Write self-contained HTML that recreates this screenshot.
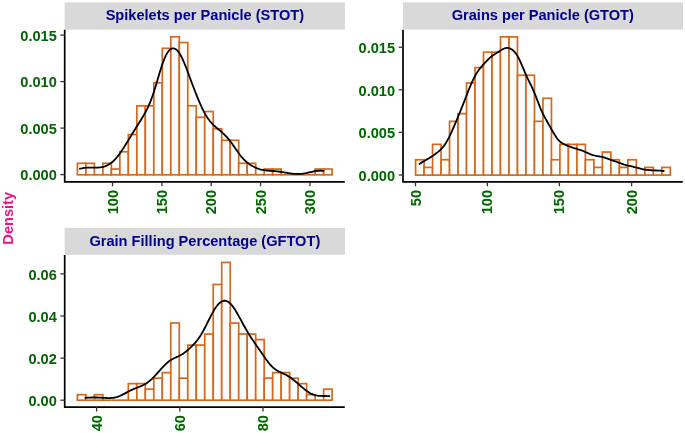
<!DOCTYPE html>
<html><head><meta charset="utf-8"><style>html,body{margin:0;padding:0;background:#fff;width:685px;height:433px;overflow:hidden}</style></head>
<body><svg width="685" height="433" viewBox="0 0 685 433" style="display:block;will-change:transform"><rect width="685" height="433" fill="#fff"/><rect x="64.7" y="2.4" width="280.30" height="27.20" fill="#D9D9D9"/><text x="204.85" y="20.35" text-anchor="middle" font-family="'Liberation Sans', sans-serif" font-weight="bold" font-size="14.6" fill="#00008B">Spikelets per Panicle (STOT)</text><g fill="#fff" stroke="#D2691E" stroke-width="1.7"><rect x="77.40" y="163.30" width="8.49" height="11.50"/><rect x="85.89" y="163.30" width="8.49" height="11.50"/><path d="M94.38,174.80H102.87"/><rect x="102.87" y="163.30" width="8.49" height="11.50"/><rect x="111.36" y="169.05" width="8.49" height="5.75"/><rect x="119.85" y="151.80" width="8.49" height="23.00"/><rect x="128.34" y="134.55" width="8.49" height="40.25"/><rect x="136.83" y="105.80" width="8.49" height="69.00"/><rect x="145.32" y="105.80" width="8.49" height="69.00"/><rect x="153.81" y="82.80" width="8.49" height="92.00"/><rect x="162.30" y="48.30" width="8.49" height="126.50"/><rect x="170.79" y="36.80" width="8.49" height="138.00"/><rect x="179.28" y="42.55" width="8.49" height="132.25"/><rect x="187.77" y="105.80" width="8.49" height="69.00"/><rect x="196.26" y="117.30" width="8.49" height="57.50"/><rect x="204.75" y="111.55" width="8.49" height="63.25"/><rect x="213.24" y="128.80" width="8.49" height="46.00"/><rect x="221.73" y="140.30" width="8.49" height="34.50"/><rect x="230.22" y="140.30" width="8.49" height="34.50"/><rect x="238.71" y="163.30" width="8.49" height="11.50"/><rect x="247.20" y="163.30" width="8.49" height="11.50"/><path d="M255.69,174.80H264.18"/><rect x="264.18" y="169.05" width="8.49" height="5.75"/><rect x="272.67" y="169.05" width="8.49" height="5.75"/><path d="M281.16,174.80H289.65"/><path d="M289.65,174.80H298.14"/><path d="M298.14,174.80H306.63"/><path d="M306.63,174.80H315.12"/><rect x="315.12" y="169.05" width="8.49" height="5.75"/><rect x="323.61" y="169.05" width="8.49" height="5.75"/></g><path d="M79.20,169.00 L80.16,168.74 L81.12,168.50 L82.09,168.28 L83.05,168.10 L84.01,167.94 L84.97,167.82 L85.93,167.72 L86.90,167.64 L87.86,167.59 L88.82,167.56 L89.78,167.55 L90.74,167.55 L91.71,167.56 L92.67,167.58 L93.63,167.60 L94.59,167.61 L95.55,167.62 L96.52,167.61 L97.48,167.59 L98.44,167.54 L99.40,167.47 L100.36,167.36 L101.33,167.22 L102.29,167.03 L103.25,166.80 L104.21,166.53 L105.17,166.20 L106.13,165.82 L107.10,165.39 L108.06,164.90 L109.02,164.34 L109.98,163.73 L110.94,163.05 L111.91,162.30 L112.87,161.48 L113.83,160.60 L114.79,159.64 L115.75,158.61 L116.72,157.51 L117.68,156.34 L118.64,155.11 L119.60,153.82 L120.56,152.46 L121.53,151.06 L122.49,149.62 L123.45,148.13 L124.41,146.61 L125.37,145.07 L126.34,143.51 L127.30,141.94 L128.26,140.36 L129.22,138.78 L130.18,137.20 L131.15,135.62 L132.11,134.05 L133.07,132.48 L134.03,130.92 L134.99,129.37 L135.96,127.83 L136.92,126.29 L137.88,124.76 L138.84,123.23 L139.80,121.69 L140.77,120.15 L141.73,118.59 L142.69,117.00 L143.65,115.38 L144.61,113.70 L145.58,111.96 L146.54,110.13 L147.50,108.20 L148.46,106.15 L149.42,103.96 L150.39,101.62 L151.35,99.13 L152.31,96.48 L153.27,93.67 L154.23,90.72 L155.19,87.64 L156.16,84.46 L157.12,81.22 L158.08,77.95 L159.04,74.70 L160.00,71.50 L160.97,68.40 L161.93,65.44 L162.89,62.66 L163.85,60.08 L164.81,57.74 L165.78,55.65 L166.74,53.83 L167.70,52.27 L168.66,50.97 L169.62,49.95 L170.59,49.18 L171.55,48.66 L172.51,48.39 L173.47,48.35 L174.43,48.56 L175.40,48.99 L176.36,49.66 L177.32,50.55 L178.28,51.67 L179.24,53.00 L180.21,54.54 L181.17,56.27 L182.13,58.19 L183.09,60.27 L184.05,62.49 L185.02,64.83 L185.98,67.26 L186.94,69.77 L187.90,72.33 L188.86,74.91 L189.83,77.51 L190.79,80.11 L191.75,82.69 L192.71,85.26 L193.67,87.79 L194.64,90.30 L195.60,92.76 L196.56,95.19 L197.52,97.57 L198.48,99.90 L199.45,102.17 L200.41,104.37 L201.37,106.50 L202.33,108.54 L203.29,110.49 L204.25,112.34 L205.22,114.08 L206.18,115.72 L207.14,117.25 L208.10,118.67 L209.06,119.99 L210.03,121.22 L210.99,122.36 L211.95,123.42 L212.91,124.41 L213.87,125.35 L214.84,126.24 L215.80,127.10 L216.76,127.94 L217.72,128.75 L218.68,129.56 L219.65,130.37 L220.61,131.18 L221.57,132.01 L222.53,132.86 L223.49,133.74 L224.46,134.65 L225.42,135.61 L226.38,136.62 L227.34,137.67 L228.30,138.79 L229.27,139.96 L230.23,141.19 L231.19,142.46 L232.15,143.79 L233.11,145.15 L234.08,146.53 L235.04,147.94 L236.00,149.34 L236.96,150.73 L237.92,152.10 L238.89,153.43 L239.85,154.72 L240.81,155.95 L241.77,157.12 L242.73,158.23 L243.70,159.27 L244.66,160.24 L245.62,161.16 L246.58,162.01 L247.54,162.80 L248.51,163.54 L249.47,164.23 L250.43,164.87 L251.39,165.48 L252.35,166.04 L253.31,166.57 L254.28,167.06 L255.24,167.51 L256.20,167.93 L257.16,168.32 L258.12,168.67 L259.09,168.99 L260.05,169.28 L261.01,169.53 L261.97,169.76 L262.93,169.95 L263.90,170.12 L264.86,170.27 L265.82,170.39 L266.78,170.50 L267.74,170.59 L268.71,170.68 L269.67,170.75 L270.63,170.82 L271.59,170.89 L272.55,170.95 L273.52,171.02 L274.48,171.10 L275.44,171.18 L276.40,171.28 L277.36,171.38 L278.33,171.49 L279.29,171.62 L280.25,171.75 L281.21,171.89 L282.17,172.05 L283.14,172.21 L284.10,172.37 L285.06,172.54 L286.02,172.71 L286.98,172.88 L287.95,173.05 L288.91,173.20 L289.87,173.35 L290.83,173.49 L291.79,173.61 L292.76,173.72 L293.72,173.81 L294.68,173.88 L295.64,173.94 L296.60,173.97 L297.57,173.98 L298.53,173.97 L299.49,173.94 L300.45,173.88 L301.41,173.80 L302.37,173.70 L303.34,173.57 L304.30,173.43 L305.26,173.27 L306.22,173.08 L307.18,172.89 L308.15,172.68 L309.11,172.46 L310.07,172.23 L311.03,172.01 L311.99,171.79 L312.96,171.58 L313.92,171.38 L314.88,171.20 L315.84,171.04 L316.80,170.91 L317.77,170.80 L318.73,170.74 L319.69,170.70 L320.65,170.70 L321.61,170.74 L322.58,170.81 L323.54,170.91 L324.50,171.05" fill="none" stroke="#000" stroke-width="1.8" stroke-linecap="butt"/><path d="M64.7,29.80 V182.75 M63.85,181.9 H344.80" fill="none" stroke="#000" stroke-width="1.7" stroke-linecap="butt"/><line x1="60.40" y1="174.6" x2="64.7" y2="174.6" stroke="#333" stroke-width="1.3"/><text transform="translate(56.80,180.30) scale(1.0,1.0)" text-anchor="end" font-family="'Liberation Sans', sans-serif" font-weight="bold" font-size="14.6" fill="#006400">0.000</text><line x1="60.40" y1="128.1" x2="64.7" y2="128.1" stroke="#333" stroke-width="1.3"/><text transform="translate(56.80,133.80) scale(1.0,1.0)" text-anchor="end" font-family="'Liberation Sans', sans-serif" font-weight="bold" font-size="14.6" fill="#006400">0.005</text><line x1="60.40" y1="81.6" x2="64.7" y2="81.6" stroke="#333" stroke-width="1.3"/><text transform="translate(56.80,87.30) scale(1.0,1.0)" text-anchor="end" font-family="'Liberation Sans', sans-serif" font-weight="bold" font-size="14.6" fill="#006400">0.010</text><line x1="60.40" y1="35.1" x2="64.7" y2="35.1" stroke="#333" stroke-width="1.3"/><text transform="translate(56.80,40.80) scale(1.0,1.0)" text-anchor="end" font-family="'Liberation Sans', sans-serif" font-weight="bold" font-size="14.6" fill="#006400">0.015</text><line x1="112.5" y1="181.9" x2="112.5" y2="186.30" stroke="#333" stroke-width="1.3"/><text transform="translate(117.50,189.90) rotate(-90) scale(1.0,1.0)" text-anchor="end" font-family="'Liberation Sans', sans-serif" font-weight="bold" font-size="14.6" fill="#006400">100</text><line x1="161.9" y1="181.9" x2="161.9" y2="186.30" stroke="#333" stroke-width="1.3"/><text transform="translate(166.90,189.90) rotate(-90) scale(1.0,1.0)" text-anchor="end" font-family="'Liberation Sans', sans-serif" font-weight="bold" font-size="14.6" fill="#006400">150</text><line x1="211.2" y1="181.9" x2="211.2" y2="186.30" stroke="#333" stroke-width="1.3"/><text transform="translate(216.20,189.90) rotate(-90) scale(1.0,1.0)" text-anchor="end" font-family="'Liberation Sans', sans-serif" font-weight="bold" font-size="14.6" fill="#006400">200</text><line x1="260.6" y1="181.9" x2="260.6" y2="186.30" stroke="#333" stroke-width="1.3"/><text transform="translate(265.60,189.90) rotate(-90) scale(1.0,1.0)" text-anchor="end" font-family="'Liberation Sans', sans-serif" font-weight="bold" font-size="14.6" fill="#006400">250</text><line x1="310.0" y1="181.9" x2="310.0" y2="186.30" stroke="#333" stroke-width="1.3"/><text transform="translate(315.00,189.90) rotate(-90) scale(1.0,1.0)" text-anchor="end" font-family="'Liberation Sans', sans-serif" font-weight="bold" font-size="14.6" fill="#006400">300</text><rect x="403" y="2.4" width="280.00" height="27.20" fill="#D9D9D9"/><text x="542.80" y="20.35" text-anchor="middle" font-family="'Liberation Sans', sans-serif" font-weight="bold" font-size="14.6" fill="#00008B">Grains per Panicle (GTOT)</text><g fill="#fff" stroke="#D2691E" stroke-width="1.7"><rect x="415.60" y="159.74" width="8.49" height="15.36"/><rect x="424.09" y="167.42" width="8.49" height="7.68"/><rect x="432.58" y="144.38" width="8.49" height="30.72"/><rect x="441.07" y="159.74" width="8.49" height="15.36"/><rect x="449.56" y="121.34" width="8.49" height="53.76"/><rect x="458.05" y="113.66" width="8.49" height="61.44"/><rect x="466.54" y="82.94" width="8.49" height="92.16"/><rect x="475.03" y="67.58" width="8.49" height="107.52"/><rect x="483.52" y="52.22" width="8.49" height="122.88"/><rect x="492.01" y="52.22" width="8.49" height="122.88"/><rect x="500.50" y="36.86" width="8.49" height="138.24"/><rect x="508.99" y="36.86" width="8.49" height="138.24"/><rect x="517.48" y="75.26" width="8.49" height="99.84"/><rect x="525.97" y="75.26" width="8.49" height="99.84"/><rect x="534.46" y="121.34" width="8.49" height="53.76"/><rect x="542.95" y="98.30" width="8.49" height="76.80"/><rect x="551.44" y="159.74" width="8.49" height="15.36"/><rect x="559.93" y="144.38" width="8.49" height="30.72"/><rect x="568.42" y="144.38" width="8.49" height="30.72"/><rect x="576.91" y="144.38" width="8.49" height="30.72"/><rect x="585.40" y="159.74" width="8.49" height="15.36"/><rect x="593.89" y="167.42" width="8.49" height="7.68"/><rect x="602.38" y="152.06" width="8.49" height="23.04"/><rect x="610.87" y="159.74" width="8.49" height="15.36"/><rect x="619.36" y="167.42" width="8.49" height="7.68"/><rect x="627.85" y="159.74" width="8.49" height="15.36"/><path d="M636.34,175.10H644.83"/><rect x="644.83" y="167.42" width="8.49" height="7.68"/><path d="M653.32,175.10H661.81"/><rect x="661.81" y="167.42" width="8.49" height="7.68"/></g><path d="M418.90,164.39 L419.86,163.68 L420.83,163.01 L421.79,162.38 L422.75,161.80 L423.72,161.24 L424.68,160.70 L425.64,160.17 L426.61,159.63 L427.57,159.09 L428.53,158.53 L429.49,157.94 L430.46,157.34 L431.42,156.71 L432.38,156.06 L433.35,155.40 L434.31,154.72 L435.27,154.04 L436.24,153.33 L437.20,152.60 L438.16,151.84 L439.13,151.04 L440.09,150.17 L441.05,149.24 L442.02,148.22 L442.98,147.09 L443.94,145.85 L444.90,144.49 L445.87,143.01 L446.83,141.40 L447.79,139.67 L448.76,137.83 L449.72,135.89 L450.68,133.86 L451.65,131.76 L452.61,129.61 L453.57,127.40 L454.54,125.17 L455.50,122.90 L456.46,120.62 L457.43,118.31 L458.39,115.99 L459.35,113.65 L460.31,111.28 L461.28,108.89 L462.24,106.48 L463.20,104.04 L464.17,101.57 L465.13,99.10 L466.09,96.61 L467.06,94.14 L468.02,91.68 L468.98,89.27 L469.95,86.91 L470.91,84.63 L471.87,82.44 L472.84,80.35 L473.80,78.37 L474.76,76.51 L475.73,74.78 L476.69,73.16 L477.65,71.66 L478.61,70.27 L479.58,68.97 L480.54,67.75 L481.50,66.59 L482.47,65.48 L483.43,64.40 L484.39,63.34 L485.36,62.31 L486.32,61.29 L487.28,60.30 L488.25,59.34 L489.21,58.43 L490.17,57.56 L491.14,56.75 L492.10,56.00 L493.06,55.30 L494.02,54.64 L494.99,54.02 L495.95,53.41 L496.91,52.81 L497.88,52.20 L498.84,51.58 L499.80,50.95 L500.77,50.33 L501.73,49.74 L502.69,49.19 L503.66,48.71 L504.62,48.33 L505.58,48.06 L506.55,47.91 L507.51,47.89 L508.47,48.01 L509.43,48.27 L510.40,48.65 L511.36,49.16 L512.32,49.81 L513.29,50.59 L514.25,51.54 L515.21,52.65 L516.18,53.94 L517.14,55.42 L518.10,57.10 L519.07,58.96 L520.03,60.98 L520.99,63.13 L521.96,65.38 L522.92,67.67 L523.88,69.96 L524.85,72.22 L525.81,74.41 L526.77,76.52 L527.73,78.56 L528.70,80.55 L529.66,82.50 L530.62,84.46 L531.59,86.47 L532.55,88.55 L533.51,90.74 L534.48,93.03 L535.44,95.43 L536.40,97.90 L537.37,100.42 L538.33,102.94 L539.29,105.41 L540.26,107.81 L541.22,110.09 L542.18,112.24 L543.14,114.25 L544.11,116.14 L545.07,117.93 L546.03,119.65 L547.00,121.32 L547.96,122.99 L548.92,124.67 L549.89,126.36 L550.85,128.09 L551.81,129.82 L552.78,131.54 L553.74,133.23 L554.70,134.85 L555.67,136.37 L556.63,137.76 L557.59,139.02 L558.55,140.13 L559.52,141.10 L560.48,141.93 L561.44,142.64 L562.41,143.25 L563.37,143.79 L564.33,144.28 L565.30,144.73 L566.26,145.15 L567.22,145.56 L568.19,145.97 L569.15,146.36 L570.11,146.75 L571.08,147.12 L572.04,147.47 L573.00,147.81 L573.97,148.12 L574.93,148.42 L575.89,148.70 L576.85,148.98 L577.82,149.25 L578.78,149.53 L579.74,149.82 L580.71,150.13 L581.67,150.46 L582.63,150.82 L583.60,151.21 L584.56,151.61 L585.52,152.04 L586.49,152.48 L587.45,152.92 L588.41,153.35 L589.38,153.77 L590.34,154.17 L591.30,154.54 L592.26,154.87 L593.23,155.17 L594.19,155.44 L595.15,155.67 L596.12,155.87 L597.08,156.05 L598.04,156.22 L599.01,156.38 L599.97,156.55 L600.93,156.74 L601.90,156.94 L602.86,157.17 L603.82,157.43 L604.79,157.72 L605.75,158.04 L606.71,158.37 L607.67,158.72 L608.64,159.08 L609.60,159.43 L610.56,159.79 L611.53,160.13 L612.49,160.47 L613.45,160.80 L614.42,161.12 L615.38,161.44 L616.34,161.77 L617.31,162.10 L618.27,162.43 L619.23,162.78 L620.20,163.13 L621.16,163.48 L622.12,163.83 L623.09,164.16 L624.05,164.49 L625.01,164.79 L625.97,165.07 L626.94,165.33 L627.90,165.57 L628.86,165.79 L629.83,165.99 L630.79,166.19 L631.75,166.39 L632.72,166.60 L633.68,166.82 L634.64,167.06 L635.61,167.31 L636.57,167.58 L637.53,167.85 L638.50,168.13 L639.46,168.41 L640.42,168.67 L641.38,168.92 L642.35,169.14 L643.31,169.34 L644.27,169.51 L645.24,169.66 L646.20,169.79 L647.16,169.90 L648.13,170.00 L649.09,170.08 L650.05,170.16 L651.02,170.23 L651.98,170.29 L652.94,170.35 L653.91,170.40 L654.87,170.45 L655.83,170.49 L656.79,170.52 L657.76,170.56 L658.72,170.60 L659.68,170.64 L660.65,170.70 L661.61,170.78 L662.57,170.88 L663.54,171.01 L664.50,171.18" fill="none" stroke="#000" stroke-width="1.8" stroke-linecap="butt"/><path d="M403,29.80 V182.75 M402.15,181.9 H682.80" fill="none" stroke="#000" stroke-width="1.7" stroke-linecap="butt"/><line x1="398.70" y1="175.0" x2="403" y2="175.0" stroke="#333" stroke-width="1.3"/><text transform="translate(395.10,180.70) scale(1.0,1.0)" text-anchor="end" font-family="'Liberation Sans', sans-serif" font-weight="bold" font-size="14.6" fill="#006400">0.000</text><line x1="398.70" y1="132.4" x2="403" y2="132.4" stroke="#333" stroke-width="1.3"/><text transform="translate(395.10,138.10) scale(1.0,1.0)" text-anchor="end" font-family="'Liberation Sans', sans-serif" font-weight="bold" font-size="14.6" fill="#006400">0.005</text><line x1="398.70" y1="89.8" x2="403" y2="89.8" stroke="#333" stroke-width="1.3"/><text transform="translate(395.10,95.50) scale(1.0,1.0)" text-anchor="end" font-family="'Liberation Sans', sans-serif" font-weight="bold" font-size="14.6" fill="#006400">0.010</text><line x1="398.70" y1="47.2" x2="403" y2="47.2" stroke="#333" stroke-width="1.3"/><text transform="translate(395.10,52.90) scale(1.0,1.0)" text-anchor="end" font-family="'Liberation Sans', sans-serif" font-weight="bold" font-size="14.6" fill="#006400">0.015</text><line x1="415.5" y1="181.9" x2="415.5" y2="186.30" stroke="#333" stroke-width="1.3"/><text transform="translate(420.50,189.90) rotate(-90) scale(1.0,1.0)" text-anchor="end" font-family="'Liberation Sans', sans-serif" font-weight="bold" font-size="14.6" fill="#006400">50</text><line x1="487.4" y1="181.9" x2="487.4" y2="186.30" stroke="#333" stroke-width="1.3"/><text transform="translate(492.40,189.90) rotate(-90) scale(1.0,1.0)" text-anchor="end" font-family="'Liberation Sans', sans-serif" font-weight="bold" font-size="14.6" fill="#006400">100</text><line x1="559.4" y1="181.9" x2="559.4" y2="186.30" stroke="#333" stroke-width="1.3"/><text transform="translate(564.40,189.90) rotate(-90) scale(1.0,1.0)" text-anchor="end" font-family="'Liberation Sans', sans-serif" font-weight="bold" font-size="14.6" fill="#006400">150</text><line x1="631.6" y1="181.9" x2="631.6" y2="186.30" stroke="#333" stroke-width="1.3"/><text transform="translate(636.60,189.90) rotate(-90) scale(1.0,1.0)" text-anchor="end" font-family="'Liberation Sans', sans-serif" font-weight="bold" font-size="14.6" fill="#006400">200</text><rect x="64.7" y="227.9" width="280.30" height="26.90" fill="#D9D9D9"/><text x="204.85" y="245.85" text-anchor="middle" font-family="'Liberation Sans', sans-serif" font-weight="bold" font-size="14.6" fill="#00008B">Grain Filling Percentage (GFTOT)</text><g fill="#fff" stroke="#D2691E" stroke-width="1.7"><rect x="77.40" y="394.69" width="8.49" height="5.51"/><path d="M85.89,400.20H94.38"/><rect x="94.38" y="394.69" width="8.49" height="5.51"/><path d="M102.87,400.20H111.36"/><path d="M111.36,400.20H119.85"/><path d="M119.85,400.20H128.34"/><rect x="128.34" y="383.67" width="8.49" height="16.53"/><rect x="136.83" y="383.67" width="8.49" height="16.53"/><rect x="145.32" y="389.18" width="8.49" height="11.02"/><rect x="153.81" y="378.16" width="8.49" height="22.04"/><rect x="162.30" y="372.65" width="8.49" height="27.55"/><rect x="170.79" y="323.06" width="8.49" height="77.14"/><rect x="179.28" y="378.16" width="8.49" height="22.04"/><rect x="187.77" y="345.10" width="8.49" height="55.10"/><rect x="196.26" y="345.10" width="8.49" height="55.10"/><rect x="204.75" y="334.08" width="8.49" height="66.12"/><rect x="213.24" y="284.49" width="8.49" height="115.71"/><rect x="221.73" y="262.45" width="8.49" height="137.75"/><rect x="230.22" y="323.06" width="8.49" height="77.14"/><rect x="238.71" y="334.08" width="8.49" height="66.12"/><rect x="247.20" y="334.08" width="8.49" height="66.12"/><rect x="255.69" y="339.59" width="8.49" height="60.61"/><rect x="264.18" y="378.16" width="8.49" height="22.04"/><rect x="272.67" y="372.65" width="8.49" height="27.55"/><rect x="281.16" y="372.65" width="8.49" height="27.55"/><rect x="289.65" y="378.16" width="8.49" height="22.04"/><rect x="298.14" y="383.67" width="8.49" height="16.53"/><rect x="306.63" y="394.69" width="8.49" height="5.51"/><path d="M315.12,400.20H323.61"/><rect x="323.61" y="389.18" width="8.49" height="11.02"/></g><path d="M84.60,397.89 L85.56,397.81 L86.53,397.73 L87.49,397.66 L88.45,397.61 L89.41,397.56 L90.38,397.53 L91.34,397.50 L92.30,397.48 L93.26,397.47 L94.23,397.47 L95.19,397.48 L96.15,397.49 L97.12,397.52 L98.08,397.55 L99.04,397.59 L100.00,397.63 L100.97,397.68 L101.93,397.74 L102.89,397.79 L103.85,397.85 L104.82,397.91 L105.78,397.96 L106.74,398.00 L107.71,398.03 L108.67,398.05 L109.63,398.04 L110.59,398.01 L111.56,397.95 L112.52,397.86 L113.48,397.74 L114.45,397.57 L115.41,397.37 L116.37,397.13 L117.33,396.84 L118.30,396.52 L119.26,396.16 L120.22,395.76 L121.18,395.32 L122.15,394.86 L123.11,394.38 L124.07,393.87 L125.04,393.36 L126.00,392.84 L126.96,392.32 L127.92,391.80 L128.89,391.29 L129.85,390.80 L130.81,390.32 L131.77,389.87 L132.74,389.43 L133.70,389.01 L134.66,388.61 L135.63,388.23 L136.59,387.85 L137.55,387.48 L138.51,387.12 L139.48,386.74 L140.44,386.36 L141.40,385.95 L142.36,385.51 L143.33,385.05 L144.29,384.54 L145.25,384.00 L146.22,383.40 L147.18,382.76 L148.14,382.06 L149.10,381.32 L150.07,380.52 L151.03,379.68 L151.99,378.79 L152.95,377.85 L153.92,376.88 L154.88,375.88 L155.84,374.84 L156.81,373.79 L157.77,372.71 L158.73,371.63 L159.69,370.54 L160.66,369.46 L161.62,368.39 L162.58,367.33 L163.55,366.31 L164.51,365.32 L165.47,364.37 L166.43,363.47 L167.40,362.62 L168.36,361.83 L169.32,361.10 L170.28,360.42 L171.25,359.80 L172.21,359.24 L173.17,358.72 L174.14,358.23 L175.10,357.78 L176.06,357.34 L177.02,356.90 L177.99,356.47 L178.95,356.01 L179.91,355.54 L180.87,355.02 L181.84,354.47 L182.80,353.88 L183.76,353.24 L184.73,352.55 L185.69,351.83 L186.65,351.06 L187.61,350.25 L188.58,349.41 L189.54,348.53 L190.50,347.63 L191.46,346.69 L192.43,345.72 L193.39,344.72 L194.35,343.68 L195.32,342.58 L196.28,341.44 L197.24,340.23 L198.20,338.95 L199.17,337.59 L200.13,336.14 L201.09,334.62 L202.05,333.01 L203.02,331.31 L203.98,329.55 L204.94,327.71 L205.91,325.83 L206.87,323.91 L207.83,321.97 L208.79,320.02 L209.76,318.10 L210.72,316.21 L211.68,314.37 L212.65,312.60 L213.61,310.92 L214.57,309.33 L215.53,307.85 L216.50,306.50 L217.46,305.27 L218.42,304.17 L219.38,303.22 L220.35,302.42 L221.31,301.76 L222.27,301.27 L223.24,300.94 L224.20,300.77 L225.16,300.77 L226.12,300.94 L227.09,301.27 L228.05,301.77 L229.01,302.44 L229.97,303.25 L230.94,304.22 L231.90,305.32 L232.86,306.56 L233.83,307.90 L234.79,309.35 L235.75,310.89 L236.71,312.50 L237.68,314.17 L238.64,315.89 L239.60,317.64 L240.56,319.41 L241.53,321.19 L242.49,322.96 L243.45,324.73 L244.42,326.48 L245.38,328.19 L246.34,329.88 L247.30,331.53 L248.27,333.14 L249.23,334.71 L250.19,336.24 L251.15,337.73 L252.12,339.18 L253.08,340.61 L254.04,342.01 L255.01,343.40 L255.97,344.78 L256.93,346.15 L257.89,347.53 L258.86,348.91 L259.82,350.30 L260.78,351.69 L261.75,353.10 L262.71,354.51 L263.67,355.91 L264.63,357.31 L265.60,358.68 L266.56,360.03 L267.52,361.33 L268.48,362.58 L269.45,363.77 L270.41,364.89 L271.37,365.94 L272.34,366.90 L273.30,367.78 L274.26,368.59 L275.22,369.31 L276.19,369.97 L277.15,370.56 L278.11,371.10 L279.07,371.59 L280.04,372.05 L281.00,372.50 L281.96,372.94 L282.93,373.37 L283.89,373.82 L284.85,374.29 L285.81,374.78 L286.78,375.31 L287.74,375.86 L288.70,376.45 L289.66,377.08 L290.63,377.74 L291.59,378.44 L292.55,379.17 L293.52,379.92 L294.48,380.71 L295.44,381.51 L296.40,382.32 L297.37,383.15 L298.33,383.99 L299.29,384.83 L300.25,385.67 L301.22,386.50 L302.18,387.32 L303.14,388.13 L304.11,388.91 L305.07,389.67 L306.03,390.40 L306.99,391.10 L307.96,391.75 L308.92,392.37 L309.88,392.93 L310.85,393.45 L311.81,393.92 L312.77,394.34 L313.73,394.70 L314.70,395.01 L315.66,395.28 L316.62,395.49 L317.58,395.65 L318.55,395.78 L319.51,395.87 L320.47,395.93 L321.44,395.97 L322.40,395.99 L323.36,395.99 L324.32,396.00 L325.29,396.00 L326.25,396.01 L327.21,396.04 L328.17,396.08 L329.14,396.14 L330.10,396.23" fill="none" stroke="#000" stroke-width="1.8" stroke-linecap="butt"/><path d="M64.7,255.00 V407.95 M63.85,407.1 H344.80" fill="none" stroke="#000" stroke-width="1.7" stroke-linecap="butt"/><line x1="60.40" y1="400.2" x2="64.7" y2="400.2" stroke="#333" stroke-width="1.3"/><text transform="translate(56.80,405.90) scale(1.0,1.0)" text-anchor="end" font-family="'Liberation Sans', sans-serif" font-weight="bold" font-size="14.6" fill="#006400">0.00</text><line x1="60.40" y1="358.1" x2="64.7" y2="358.1" stroke="#333" stroke-width="1.3"/><text transform="translate(56.80,363.80) scale(1.0,1.0)" text-anchor="end" font-family="'Liberation Sans', sans-serif" font-weight="bold" font-size="14.6" fill="#006400">0.02</text><line x1="60.40" y1="316.0" x2="64.7" y2="316.0" stroke="#333" stroke-width="1.3"/><text transform="translate(56.80,321.70) scale(1.0,1.0)" text-anchor="end" font-family="'Liberation Sans', sans-serif" font-weight="bold" font-size="14.6" fill="#006400">0.04</text><line x1="60.40" y1="273.9" x2="64.7" y2="273.9" stroke="#333" stroke-width="1.3"/><text transform="translate(56.80,279.60) scale(1.0,1.0)" text-anchor="end" font-family="'Liberation Sans', sans-serif" font-weight="bold" font-size="14.6" fill="#006400">0.06</text><line x1="96.6" y1="407.1" x2="96.6" y2="411.50" stroke="#333" stroke-width="1.3"/><text transform="translate(101.60,415.10) rotate(-90) scale(1.0,1.0)" text-anchor="end" font-family="'Liberation Sans', sans-serif" font-weight="bold" font-size="14.6" fill="#006400">40</text><line x1="179.8" y1="407.1" x2="179.8" y2="411.50" stroke="#333" stroke-width="1.3"/><text transform="translate(184.80,415.10) rotate(-90) scale(1.0,1.0)" text-anchor="end" font-family="'Liberation Sans', sans-serif" font-weight="bold" font-size="14.6" fill="#006400">60</text><line x1="263.0" y1="407.1" x2="263.0" y2="411.50" stroke="#333" stroke-width="1.3"/><text transform="translate(268.00,415.10) rotate(-90) scale(1.0,1.0)" text-anchor="end" font-family="'Liberation Sans', sans-serif" font-weight="bold" font-size="14.6" fill="#006400">80</text><text transform="translate(12.8,218.3) rotate(-90)" text-anchor="middle" font-family="'Liberation Sans', sans-serif" font-weight="bold" font-size="14.6" fill="#E9148A">Density</text></svg></body></html>
